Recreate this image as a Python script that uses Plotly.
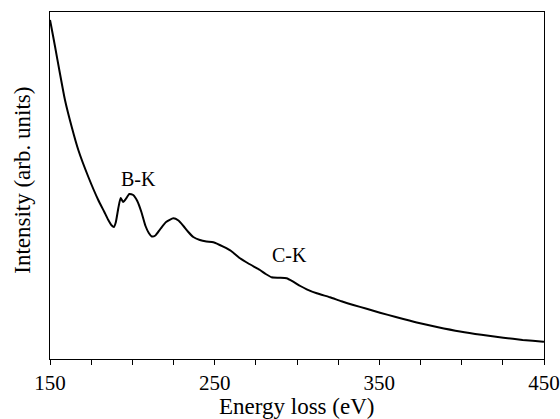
import plotly.graph_objects as go

energy = [150.0, 150.6, 153.0, 156.1, 159.1, 163.2, 167.2, 173.3, 179.3, 183, 185.4, 187.5, 188.8,
          190, 191.5, 192.9, 194.5, 196, 198.2, 200.5, 203, 205.5, 208, 210, 211.8, 214, 217,
          220.5, 224.9, 228, 231, 234, 237, 241, 245, 249.2, 255.2, 260, 265.4, 271, 277.5,
          281, 284.6, 289, 293.7, 297.7, 302, 305.9, 312.0, 320.0, 327, 334.2, 342.3, 350.4,
          360, 372.7, 385, 399.0, 412, 425.3, 437, 449.6, 450]
ypx = [20, 25, 46, 74, 100, 127, 150, 177, 200, 212, 220, 225.5, 227,
       222, 208, 198, 202, 199, 194, 195, 201, 212, 226, 233, 236.5, 235.5, 229,
       222, 218.3, 220.5, 226, 232, 237, 240, 241.5, 242.3, 246.7, 251, 258.3, 264, 270,
       274, 277.3, 277.8, 278.3, 281.7, 286, 289.3, 293.3, 297.3, 301.3, 305, 308.8, 312.7,
       317, 322.5, 327, 331.5, 334.8, 337.7, 339.9, 341.7, 341.8]
intensity = [359 - v for v in ypx]

labels = ["B-K", "C-K"]
label_x = [204, 295.7]
label_y = [359 - 179, 359 - 255]

xticks = [150, 250, 350, 450]

FONT = "Liberation Serif"

fig = go.Figure()
fig.add_trace(go.Scatter(x=energy, y=intensity, mode="lines",
                         line=dict(color="black", width=2, shape="spline", smoothing=0.5),
                         showlegend=False, hoverinfo="skip"))
for t, x, y in zip(labels, label_x, label_y):
    fig.add_annotation(x=x, y=y, text=t, showarrow=False,
                       font=dict(family=FONT, size=20, color="black"))

fig.add_annotation(xref="paper", yref="paper", x=0.498, y=-0.136, text="Energy loss (eV)",
                   showarrow=False, yanchor="middle", xanchor="center",
                   font=dict(family=FONT, size=23, color="black"))
fig.add_annotation(xref="paper", yref="paper", x=-0.055, y=0.516, text="Intensity (arb. units)",
                   showarrow=False, textangle=-90, yanchor="middle", xanchor="center",
                   font=dict(family=FONT, size=23, color="black"))

fig.update_layout(
    width=560, height=419,
    margin=dict(l=50, r=16, t=12, b=60),
    plot_bgcolor="white", paper_bgcolor="white",
    font=dict(family=FONT, size=21, color="black"),
)
fig.update_xaxes(range=[150, 450], tickvals=xticks, ticktext=[str(v) for v in xticks],
                 ticks="outside", ticklen=5, tickwidth=1, tickcolor="black",
                 minor=dict(dtick=25, tick0=150, ticks="outside", ticklen=5, tickcolor="black"),
                 showline=True, linecolor="black", linewidth=1, mirror=True,
                 showgrid=False, zeroline=False, automargin=False,
                 tickfont=dict(family=FONT, size=21))
fig.update_yaxes(range=[0, 347], showticklabels=False, ticks="",
                 showline=True, linecolor="black", linewidth=1, mirror=True,
                 showgrid=False, zeroline=False, automargin=False)

fig.write_html("out.html")
